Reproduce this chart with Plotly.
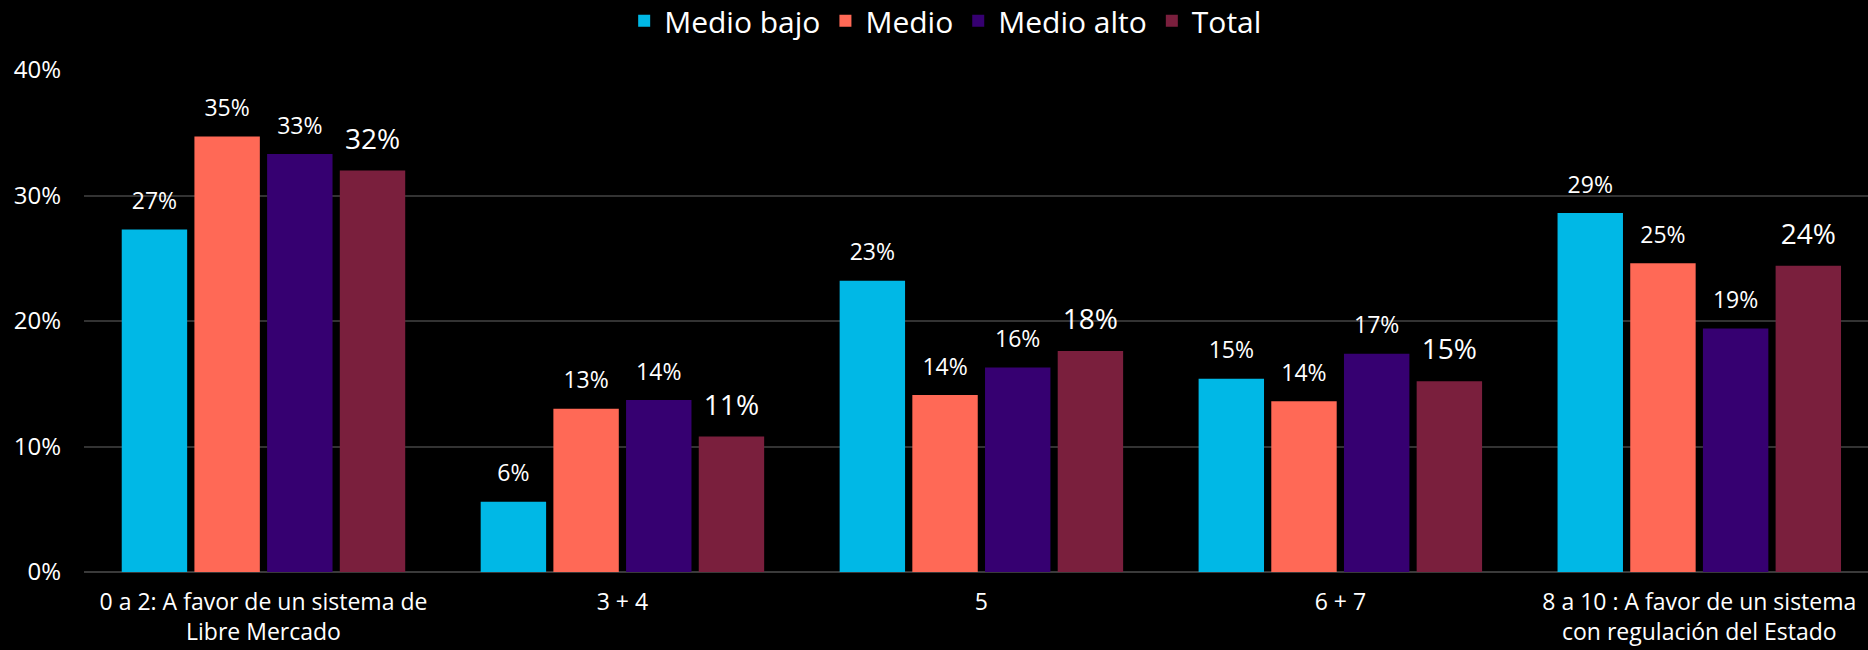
import plotly.graph_objects as go

# categories and series
categorias = [
    "0 a 2: A favor de un sistema de<br>Libre Mercado",
    "3 + 4",
    "5",
    "6 + 7",
    "8 a 10 : A favor de un sistema<br>con regulación del Estado",
]
medio_bajo = [27.3, 5.6, 23.2, 15.4, 28.6]
medio = [34.7, 13.0, 14.1, 13.6, 24.6]
medio_alto = [33.3, 13.7, 16.3, 17.4, 19.4]
total = [32.0, 10.8, 17.6, 15.2, 24.4]

y_ticks = [0, 10, 20, 30, 40]
y_tick_labels = ["0%", "10%", "20%", "30%", "40%"]

series = [
    ("Medio bajo", medio_bajo, "#00B8E6", 23),
    ("Medio", medio, "#FF6956", 23),
    ("Medio alto", medio_alto, "#360071", 23),
    ("Total", total, "#7A1F3D", 28),
]

FONT = "Open Sans"

fig = go.Figure()
for name, vals, color, tsize in series:
    fig.add_trace(go.Bar(
        name=name, x=categorias, y=vals, offsetgroup=name,
        marker_color=color, marker_line_width=0,
    ))
    # labels: invisible markers push the text up off the bar top
    fig.add_trace(go.Scatter(
        x=categorias, y=vals, offsetgroup=name, showlegend=False,
        mode="markers+text", marker=dict(size=22, opacity=0),
        text=[f"{round(v)}%" for v in vals], textposition="top center",
        textfont=dict(color="white", size=tsize, family=FONT),
        cliponaxis=False, hoverinfo="skip",
    ))

fig.update_layout(
    width=1868, height=650,
    paper_bgcolor="black", plot_bgcolor="black",
    barmode="group", bargap=0.19, bargroupgap=0.1,
    scattermode="group", scattergap=0.19,
    margin=dict(l=84, r=0, t=70, b=78, autoexpand=False),
    font=dict(family=FONT, color="white", size=19),
    legend=dict(orientation="h", x=0.483, xanchor="center", y=1.098, yanchor="middle",
                font=dict(size=30, family=FONT, color="white"),
                itemsizing="constant", traceorder="normal", itemwidth=30),
    xaxis=dict(showgrid=False, tickfont=dict(size=23, family=FONT), showline=False,
               ticklabelstandoff=14, range=[-0.5, 4.47]),
    yaxis=dict(range=[0, 40], tickvals=y_ticks, ticktext=y_tick_labels,
               gridcolor="#333333", gridwidth=1.5, zeroline=True, zerolinecolor="#3a3a3a",
               zerolinewidth=2, ticks="", ticklabelstandoff=22, tickfont=dict(size=24)),
)

fig.write_html("out.html", config={"displayModeBar": False},
               post_script="document.body.style.margin='0';document.body.style.background='black';")
